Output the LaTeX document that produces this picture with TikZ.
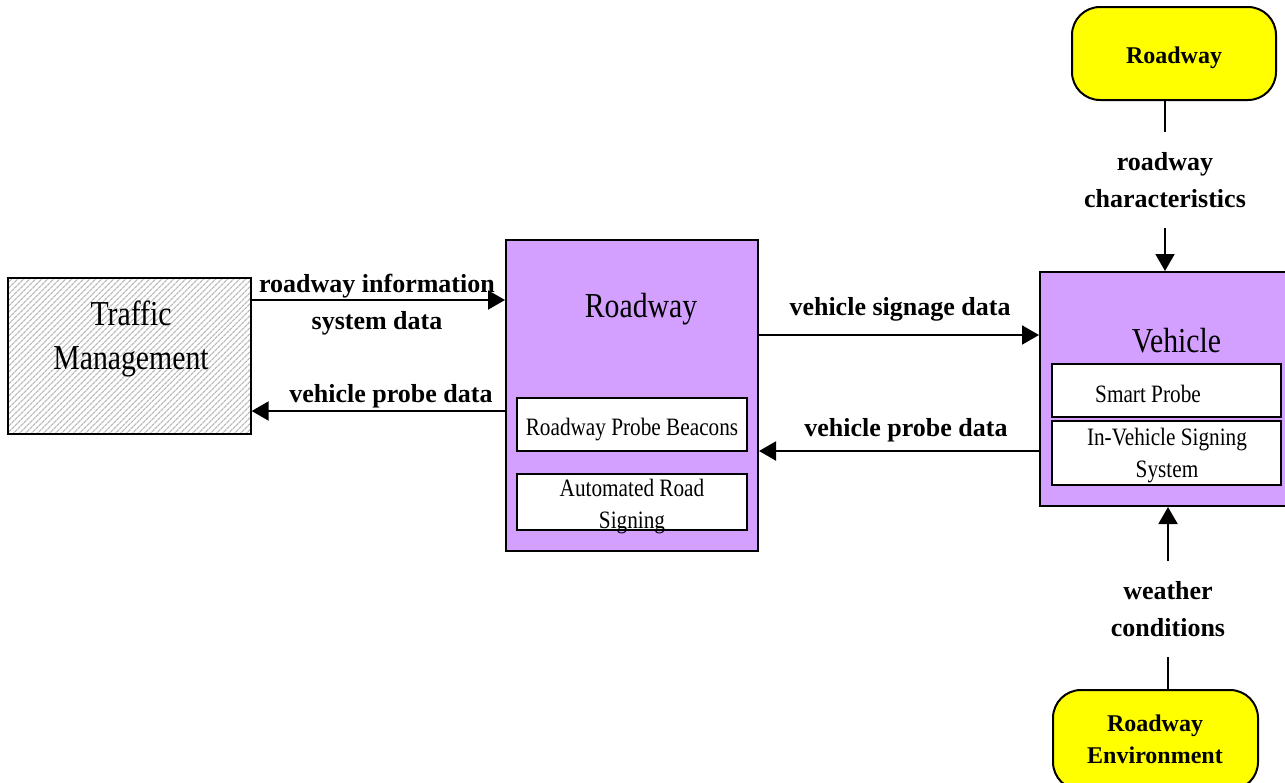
\documentclass[tikz,border=0pt]{standalone}
\usepackage{fontspec}
\setmainfont{Liberation Serif}
\newfontfamily\condfont[FakeStretch=0.85]{Liberation Serif}
\usetikzlibrary{arrows.meta}
\usetikzlibrary{patterns.meta}

\definecolor{sysviolet}{RGB}{212,160,255}
\definecolor{termyellow}{RGB}{255,255,0}

\begin{document}
\begin{tikzpicture}[
        x=1pt, y=-1pt,
        flow/.style={line width=2pt, -{Triangle[length=17pt, width=19pt]}},
        wire/.style={line width=2pt},
        tmbox/.style={draw, line width=2pt, inner sep=0pt, pattern={Lines[angle=45, distance=4pt, line width=1.3pt]}, pattern color=black!27},
        sysbox/.style={draw, line width=2pt, inner sep=0pt, fill=sysviolet},
        subbox/.style={draw, line width=2pt, inner sep=0pt, fill=white},
        termbox/.style={draw, line width=2pt, inner sep=0pt, fill=termyellow, rounded corners=28pt},
        bigtext/.style={align=center, font=\condfont\fontsize{35}{44}\selectfont},
        smalltext/.style={align=center, font=\condfont\fontsize{25}{32}\selectfont},
        flowlabel/.style={align=center, font=\bfseries\fontsize{26}{37}\selectfont},
        termtext/.style={align=center, font=\bfseries\fontsize{24}{32}\selectfont}
    ]
    % page
    \fill[white] (0,0) rectangle (1285,782);
    \clip (0,0) rectangle (1285,782);

    % traffic management
    \node[tmbox, minimum width=243pt, minimum height=156pt] (tm) at (129.5,356) {};
    \node[bigtext] (tmtext) at (131,339) {Traffic\\Management};

    % roadway
    \node[sysbox, minimum width=252pt, minimum height=311pt] (rw) at (632,395.5) {};
    \node[bigtext, anchor=base] (rwtext) at (641,317) {Roadway};
    \node[subbox, minimum width=230pt, minimum height=53pt] (beacons) at (632,424.5) {};
    \node[smalltext, anchor=base] (beaconstext) at (632,435) {Roadway Probe Beacons};
    \node[subbox, minimum width=230pt, minimum height=56pt] (signing) at (632,502) {};
    \node[smalltext] (signingtext) at (632,507) {Automated Road\\Signing};

    % vehicle
    \node[sysbox, minimum width=253pt, minimum height=234pt] (veh) at (1166.5,389) {};
    \node[bigtext, anchor=base] (vehtext) at (1176.5,352) {Vehicle};
    \node[subbox, minimum width=229pt, minimum height=53pt] (probe) at (1166.5,390.5) {};
    \node[smalltext, anchor=base] (probetext) at (1148,402) {Smart Probe};
    \node[subbox, minimum width=229pt, minimum height=64pt] (invehicle) at (1166.5,453) {};
    \node[smalltext] (invehicletext) at (1167,455.5) {In-Vehicle Signing\\System};

    % terminators
    \node[termbox, minimum width=204pt, minimum height=93pt] (rwext) at (1174,53.5) {};
    \node[termtext, anchor=base] (rwexttext) at (1174,63) {Roadway};
    \node[termbox, minimum width=205pt, minimum height=100pt] (envext) at (1155.5,740) {};
    \node[termtext] (envexttext) at (1155,739) {Roadway\\Environment};

    % rows of the horizontal flows
    \coordinate (risrow) at (0,300);
    \coordinate (tmproberow) at (0,411);
    \coordinate (signagerow) at (0,335);
    \coordinate (vehproberow) at (0,451);

    % flows between traffic management and roadway
    \node[flowlabel] (rislabel) at (377,305) {roadway information\\system data};
    \draw[flow] (tm.east |- risrow) -- (rw.west |- risrow);
    \node[flowlabel, anchor=base] (tmprobelabel) at (391,402) {vehicle probe data};
    \draw[flow] (rw.west |- tmproberow) -- (tm.east |- tmproberow);

    % flows between roadway and vehicle
    \node[flowlabel, anchor=base] (signagelabel) at (900,315) {vehicle signage data};
    \draw[flow] (rw.east |- signagerow) -- (veh.west |- signagerow);
    \node[flowlabel, anchor=base] (vehprobelabel) at (906,436) {vehicle probe data};
    \draw[flow] (veh.west |- vehproberow) -- (rw.east |- vehproberow);

    % flows from the terminators
    \node[flowlabel, minimum height=96pt] (charlabel) at (1165,180) {roadway\\characteristics};
    \draw[wire] (rwext.south -| charlabel) -- (charlabel.north);
    \draw[flow] (charlabel.south) -- (veh.north -| charlabel);
    \node[flowlabel, minimum height=96pt] (weatherlabel) at (1168,609) {weather\\conditions};
    \draw[wire] (envext.north -| weatherlabel) -- (weatherlabel.south);
    \draw[flow] (weatherlabel.north) -- (veh.south -| weatherlabel);

\end{tikzpicture}
\end{document}
